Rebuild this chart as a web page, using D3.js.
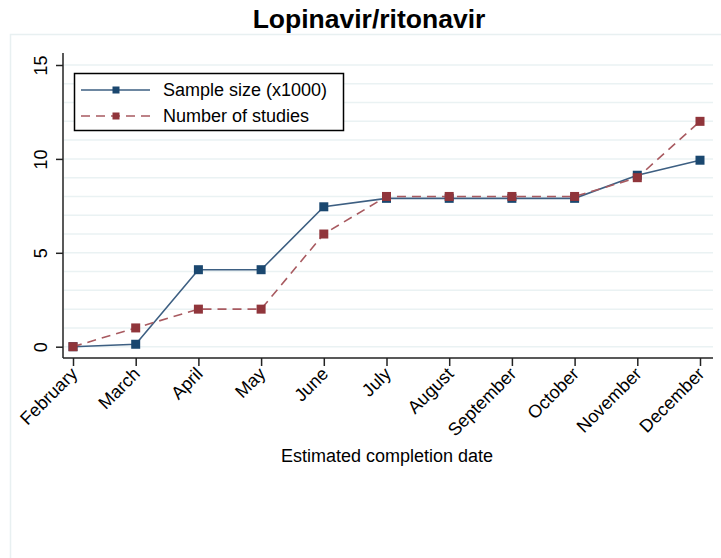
<!DOCTYPE html>
<html><head><meta charset="utf-8">
<script src="https://cdn.jsdelivr.net/npm/d3@7"></script>
<style>body{margin:0;background:#fff}svg{display:block;font-family:"Liberation Sans",Arial,sans-serif}</style>
</head><body><svg id="c" width="721" height="558"></svg>
<script>
const months = ["February","March","April","May","June","July","August","September","October","November","December"];
const sampleSize = [0, 0.13, 4.1, 4.1, 7.45, 7.9, 7.9, 7.9, 7.9, 9.13, 9.93];
const numStudies = [0, 1, 2, 2, 6, 8, 8, 8, 8, 9, 12];
const yTicks = [0, 5, 10, 15];
const gridVals = d3.range(0, 16);

const svg = d3.select("#c");
const x = d3.scalePoint().domain(months).range([73, 700]);
const y = d3.scaleLinear().domain([0, 15]).range([346.7, 65]);

// outer frame
svg.append("rect").attr("x",10.5).attr("y",34.5).attr("width",720).attr("height",530)
  .attr("fill","none").attr("stroke","#e8f0f1").attr("stroke-width",1.5);

// title
svg.append("text").attr("x",369).attr("y",28).attr("text-anchor","middle")
  .attr("font-size",26.5).attr("font-weight","bold").attr("fill","#000").text("Lopinavir/ritonavir");

// gridlines
svg.append("g").selectAll("line").data(gridVals).join("line")
  .attr("x1",64).attr("x2",713).attr("y1",d=>y(d)).attr("y2",d=>y(d))
  .attr("stroke","#eaf2f3").attr("stroke-width",1.5);

// y axis
const yAxis = svg.append("g").attr("transform","translate(63,0)")
  .call(d3.axisLeft(y).tickValues(yTicks).tickSize(7).tickSizeOuter(0));
yAxis.select(".domain").attr("d","M0,53V358").attr("stroke","#222").attr("stroke-width",1.5);
yAxis.selectAll(".tick line").attr("stroke","#222").attr("stroke-width",1.5);
yAxis.selectAll(".tick text").attr("font-size",18).attr("fill","#000")
  .attr("text-anchor","middle").attr("x",0).attr("y",0).attr("dy","0.35em")
  .attr("transform","translate(-22,0) rotate(-90)");
yAxis.attr("font-family",null);

// x axis
const xAxis = svg.append("g").attr("transform","translate(0,358)")
  .call(d3.axisBottom(x).tickSize(8).tickSizeOuter(0));
xAxis.select(".domain").attr("d","M63,0H713").attr("stroke","#222").attr("stroke-width",1.5);
xAxis.selectAll(".tick line").attr("stroke","#222").attr("stroke-width",1.5);
xAxis.selectAll(".tick text").attr("font-size",18).attr("fill","#000")
  .attr("text-anchor","end").attr("dy",null).attr("y",0).attr("x",0)
  .attr("transform","translate(5,17) rotate(-45)");
xAxis.attr("font-family",null);

// axis title
svg.append("text").attr("x",387).attr("y",462).attr("text-anchor","middle")
  .attr("font-size",18).attr("fill","#000").text("Estimated completion date");

// series
const series = [
  {name:"Sample size (x1000)", vals:sampleSize, color:"#1a476f", line:"#3d5f82", dash:null},
  {name:"Number of studies", vals:numStudies, color:"#90353b", line:"#a85a60", dash:"9,6"}
];
const line = d3.line().x((d,i)=>x(months[i])).y(d=>y(d));
series.forEach(s=>{
  svg.append("path").datum(s.vals).attr("d",line).attr("fill","none")
    .attr("stroke",s.line).attr("stroke-width",1.6).attr("stroke-dasharray",s.dash);
  svg.append("g").selectAll("rect").data(s.vals).join("rect")
    .attr("x",(d,i)=>x(months[i])-4.5).attr("y",d=>y(d)-4.5).attr("width",9).attr("height",9)
    .attr("fill",s.color);
});

// legend
const lg = svg.append("g");
lg.append("rect").attr("x",74.5).attr("y",73.5).attr("width",269).attr("height",57)
  .attr("fill","#fff").attr("stroke","#000").attr("stroke-width",1.5);
series.forEach((s,i)=>{
  const yy = 90 + i*26;
  lg.append("line").attr("x1",81).attr("x2",150).attr("y1",yy).attr("y2",yy)
    .attr("stroke",s.line).attr("stroke-width",1.6).attr("stroke-dasharray",s.dash);
  lg.append("rect").attr("x",112.5).attr("y",yy-3.5).attr("width",7).attr("height",7).attr("fill",s.color);
  lg.append("text").attr("x",163).attr("y",yy+6).attr("font-size",18).attr("fill","#000").text(s.name);
});
</script></body></html>
